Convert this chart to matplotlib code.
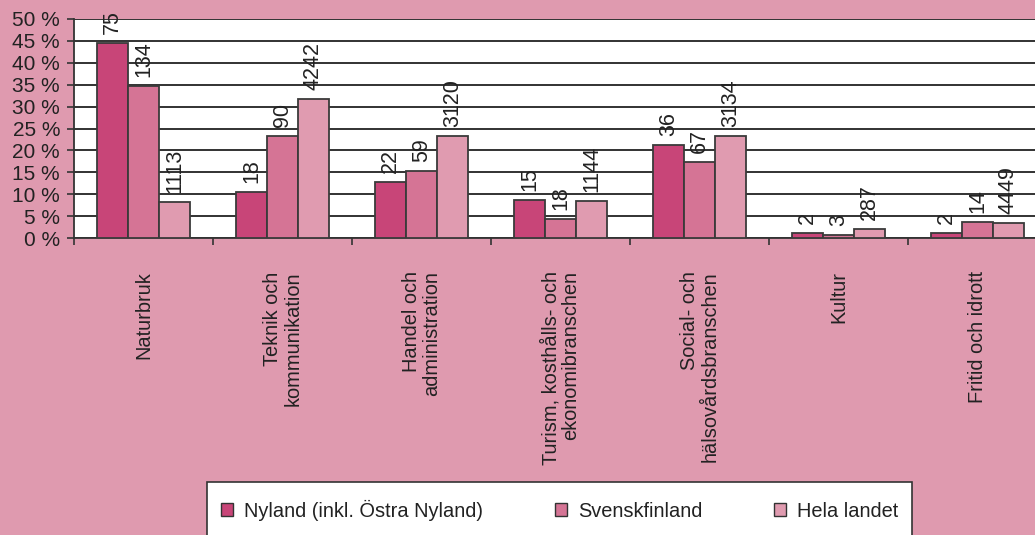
import numpy as np
import matplotlib
matplotlib.use("Agg")
import matplotlib.pyplot as plt
from matplotlib.patches import Patch, Rectangle

plt.rcParams['font.family'] = ['Liberation Sans', 'DejaVu Sans']

# Data
categories = ["Naturbruk",
              "Teknik och\nkommunikation",
              "Handel och\nadministration",
              "Turism, kosthålls- och\nekonomibranschen",
              "Social- och\nhälsovårdsbranschen",
              "Kultur",
              "Fritid och idrott"]
series_names = ["Nyland (inkl. Östra Nyland)", "Svenskfinland", "Hela landet"]
nyland_pct = [44.5, 10.6, 12.7, 8.7, 21.2, 1.2, 1.2]
svensk_pct = [34.7, 23.2, 15.3, 4.4, 17.3, 0.6, 3.6]
hela_pct = [8.3, 31.7, 23.2, 8.5, 23.3, 2.1, 3.4]
nyland_n = [75, 18, 22, 15, 36, 2, 2]
svensk_n = [134, 90, 59, 18, 67, 3, 14]
hela_n = [1113, 4242, 3120, 1144, 3134, 287, 4449]
yticks = [0, 5, 10, 15, 20, 25, 30, 35, 40, 45, 50]

colors = ['#c84578', '#d57495', '#e09bb0']
bg = '#df9aaf'
txt = '#222222'

fig = plt.figure(figsize=(10.35, 5.35), dpi=100, facecolor=bg)
W, H = 1035, 535
ax = fig.add_axes([74 / W, 1 - 238 / H, (1047 - 74) / W, (238 - 19) / H])
ax.set_facecolor('white')

x = np.arange(len(categories))
bw = 0.223
for k, (pct, cnt) in enumerate(zip([nyland_pct, svensk_pct, hela_pct],
                                   [nyland_n, svensk_n, hela_n])):
    bars = ax.bar(x + (k - 1) * bw, pct, bw, color=colors[k],
                  edgecolor='#3a3a3a', linewidth=1.3, zorder=3)
    for b, n in zip(bars, cnt):
        ax.annotate(str(n), (b.get_x() + b.get_width() / 2, b.get_height()),
                    xytext=(0, 6.5), textcoords='offset points',
                    rotation=90, ha='center', va='bottom',
                    fontsize=15.5, color=txt)

ax.set_xlim(-0.5, len(categories) - 0.5)
ax.set_ylim(0, 50)
ax.set_yticks(yticks)
ax.set_yticklabels([f"{v} %" for v in yticks], fontsize=15, color=txt)
ax.yaxis.grid(True, color='#222222', linewidth=1.3, zorder=0)
ax.set_axisbelow(True)

ax.set_xticks(x)
ax.set_xticklabels(categories, rotation=90, va='top', ha='center',
                   multialignment='right', fontsize=14.4, color=txt,
                   linespacing=1.1)
ax.set_xticks(np.arange(len(categories) + 1) - 0.5, minor=True)
ax.tick_params(axis='x', which='major', length=0, pad=24)
ax.tick_params(axis='x', which='minor', length=5, width=1.2, color='#333333',
               direction='out')
ax.tick_params(axis='y', length=5, width=1.2, color='#333333', pad=5)

for s in ['top', 'right']:
    ax.spines[s].set_visible(False)
for s in ['left', 'bottom']:
    ax.spines[s].set_color('#333333')
    ax.spines[s].set_linewidth(1.3)

# Legend box (runs past the bottom edge)
fig.patches.append(Rectangle((207 / W, -0.05), (912 - 207) / W, (535 - 482) / H + 0.05,
                             transform=fig.transFigure, facecolor='white',
                             edgecolor='#333333', linewidth=1.2, zorder=1))
handles = [Patch(facecolor=c, edgecolor='#333333', linewidth=1.0) for c in colors]
fig.legend(handles, series_names, loc='center left',
           bbox_to_anchor=(221 / W, 1 - 510 / H), frameon=False, ncol=3,
           handlelength=0.6, handleheight=0.6, handletextpad=0.55,
           columnspacing=3.6, borderpad=0, borderaxespad=0,
           fontsize=14.4, labelcolor=txt)

fig.savefig('out.png', dpi=100, facecolor=bg)
